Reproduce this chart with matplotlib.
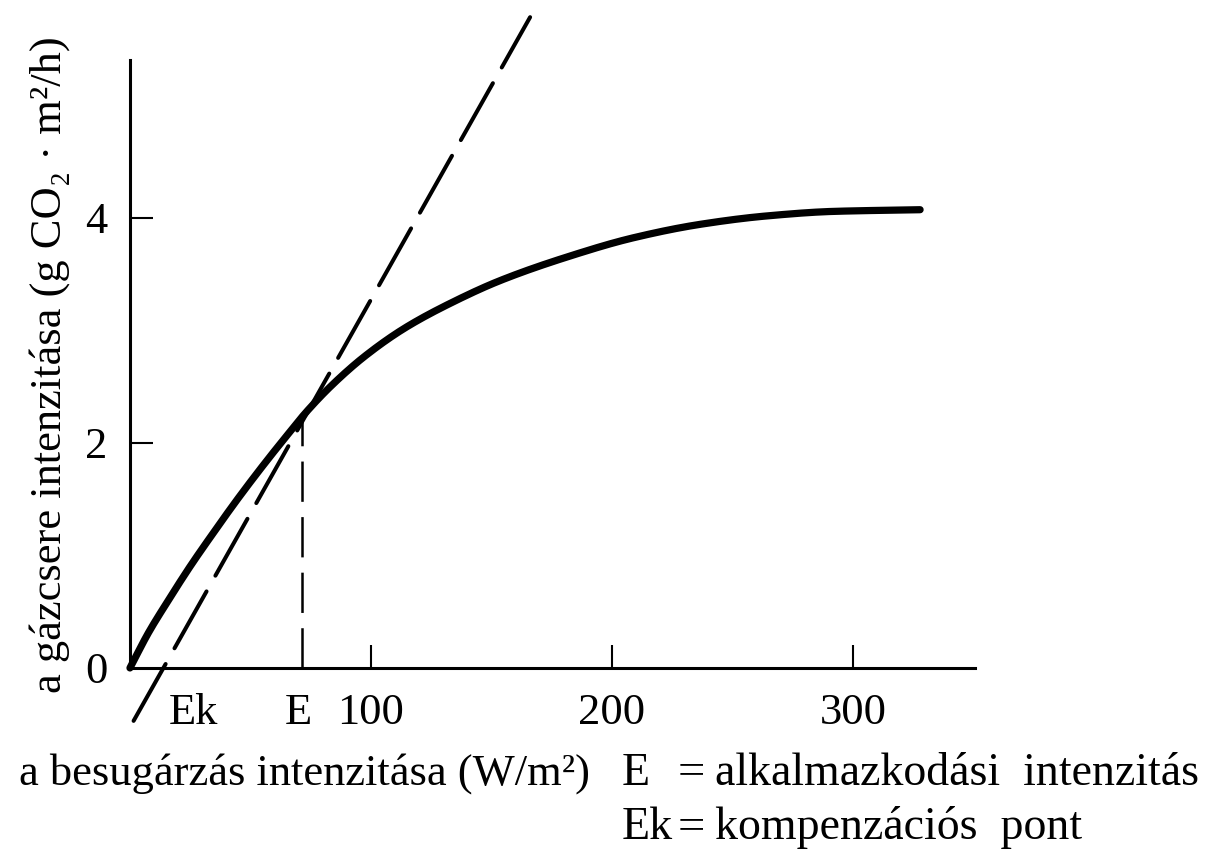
import numpy as np
import matplotlib.pyplot as plt

plt.rcParams['font.family'] = ['Liberation Serif', 'DejaVu Serif']
plt.rcParams['lines.scale_dashes'] = False

# light response curve of gas exchange (W/m2 -> g CO2 m2/h)
irradiance = [0, 7.6, 15.9, 24.9, 34.6, 44.3, 56.0, 65.7, 72.6, 83.7, 97.5,
              114.1, 134.9, 153.5, 181.3, 208.7, 236.5, 264.3, 291.7, 327.8]
gas_exchange = [0, 0.31, 0.60, 0.90, 1.20, 1.49, 1.82, 2.08, 2.26, 2.51,
                2.77, 3.02, 3.26, 3.44, 3.65, 3.82, 3.94, 4.015, 4.055, 4.07]

# initial slope line through the compensation point
slope_x = [1.5, 166.0]
slope_y = [-0.47, 5.78]

ek_point = 13.8      # kompenzációs pont
e_point = 71.5       # alkalmazkodási intenzitás
e_value = 2.24

x_ticks = [100, 200, 300]
y_ticks = [0, 2, 4]


def smooth_curve(x, y, n=600):
    x = np.asarray(x, float)
    y = np.asarray(y, float)
    h = np.diff(x)
    d = np.diff(y) / h
    m = np.empty_like(y)
    m[0], m[-1] = d[0], d[-1]
    for k in range(1, len(x) - 1):
        if d[k - 1] * d[k] <= 0:
            m[k] = 0
        else:
            w1 = 2 * h[k] + h[k - 1]
            w2 = h[k] + 2 * h[k - 1]
            m[k] = (w1 + w2) / (w1 / d[k - 1] + w2 / d[k])
    xs = np.linspace(x[0], x[-1], n)
    idx = np.clip(np.searchsorted(x, xs) - 1, 0, len(h) - 1)
    t = (xs - x[idx]) / h[idx]
    h00 = 2 * t**3 - 3 * t**2 + 1
    h10 = t**3 - 2 * t**2 + t
    h01 = -2 * t**3 + 3 * t**2
    h11 = t**3 - t**2
    ys = (h00 * y[idx] + h10 * h[idx] * m[idx] + h01 * y[idx + 1]
          + h11 * h[idx] * m[idx + 1])
    return xs, ys


fig = plt.figure(figsize=(12.09, 8.64), dpi=100)
ax = fig.add_axes([0.1075, 0.2269, 0.699, 0.7037])

xs, ys = smooth_curve(irradiance, gas_exchange)
ax.plot(xs, ys, color='black', lw=5.2, solid_capstyle='round', clip_on=False)

ax.plot(slope_x, slope_y, color='black', lw=2.9, dashes=(47, 13),
        dash_capstyle='round', clip_on=False)
ax.plot([e_point, e_point], [0, e_value], color='black', lw=1.8,
        dashes=(29, 11))

ax.set_xlim(0, 350.6)
ax.set_ylim(0, 5.40)
for side in ['top', 'right']:
    ax.spines[side].set_visible(False)
for side in ['left', 'bottom']:
    ax.spines[side].set_linewidth(2.2)

ax.set_xticks(x_ticks)
ax.set_xticklabels([str(t) for t in x_ticks])
ax.set_yticks(y_ticks)
ax.set_yticklabels([str(t) for t in y_ticks])
ax.tick_params(direction='in', length=16.5, width=1.5, labelsize=32)
ax.tick_params(axis='x', pad=18)
ax.tick_params(axis='y', pad=16)
ax.yaxis.get_major_ticks()[0].tick1line.set_visible(False)

ax.annotate('Ek', xy=(ek_point, 0), xytext=(22, -18),
            textcoords='offset points', ha='center', va='top', fontsize=32)
ax.annotate('E', xy=(e_point, 0), xytext=(-3, -18),
            textcoords='offset points', ha='center', va='top', fontsize=32)

fig.text(0.041, 0.578, 'a gázcsere intenzitása (g CO₂ · m²/h)',
         rotation=90, ha='center', va='center', fontsize=32)
fig.text(0.016, 0.105, 'a besugárzás intenzitása (W/m²)',
         ha='left', va='center', fontsize=32)

# legend of the two marked points
fig.text(0.514, 0.105, 'E', ha='left', va='center', fontsize=33)
fig.text(0.514, 0.042, 'Ek', ha='left', va='center', fontsize=33)
fig.text(0.5715, 0.105, '=', ha='center', va='center', fontsize=35)
fig.text(0.5715, 0.042, '=', ha='center', va='center', fontsize=35)
fig.text(0.591, 0.105, 'alkalmazkodási  intenzitás', ha='left',
         va='center', fontsize=33)
fig.text(0.591, 0.042, 'kompenzációs  pont', ha='left', va='center',
         fontsize=33)

plt.savefig('out.png', dpi=100)
